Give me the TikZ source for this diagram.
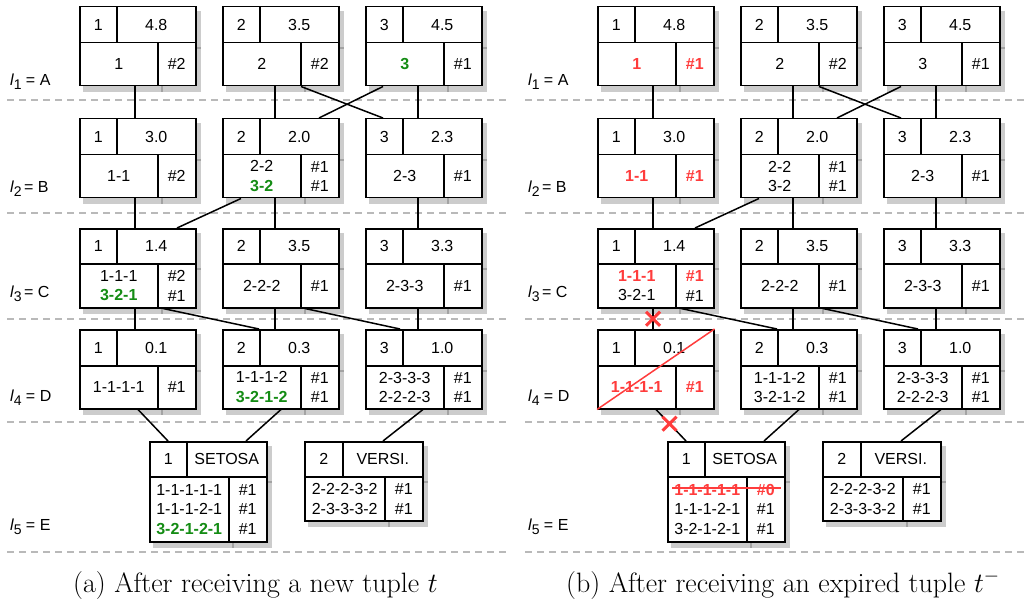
\RequirePackage{fix-cm}
\documentclass[tikz,border=0pt]{standalone}
\usepackage{fontspec}
\newfontfamily\boxfont{Liberation Sans}
\usetikzlibrary{calc,shapes.misc}
\definecolor{gcol}{RGB}{20,140,20}
\definecolor{rcol}{RGB}{255,60,60}
\definecolor{dashc}{RGB}{185,185,185}
\newcommand\G[1]{\textcolor{gcol}{\bfseries #1}}
\newcommand\Rd[1]{\textcolor{rcol}{\bfseries #1}}
\newcommand\IDW{37}\newcommand\NW{78}\newcommand\TW{116}
\newcommand\setdims[3]{\renewcommand\IDW{#1}\renewcommand\NW{#2}\renewcommand\TW{#3}}
\newcommand\cellx[6]{%
  \pgfmathsetmacro\cxa{#2}\pgfmathsetmacro\cya{#3}%
  \pgfmathsetmacro\cw{#4}\pgfmathsetmacro\ch{#5}%
  \fill[shadowc] (\cxa+4.25,\cya+5.25) rectangle ++(\cw+1.5,\ch+1.5);
  \node[cell,minimum width=\cw pt,minimum height=\ch pt] (#1) at (\cxa,\cya) {#6};
}
\newcommand\tbox[9]{%
  \cellx{#1i}{#2}{#3}{\IDW}{#8}{#4}
  \cellx{#1v}{#2+\IDW}{#3}{\TW-\IDW}{#8}{#5}
  \cellx{#1n}{#2}{#3+#8}{\NW}{#9}{#6}
  \cellx{#1c}{#2+\NW}{#3+#8}{\TW-\NW}{#9}{#7}
}
\newcommand\link[4]{\draw[conn] ($(#1n.south west)+(#2,0)$) -- ($(#3i.north west)+(#4,0)$);}
\newcommand\links[1]{%
  \link{#1A1}{56}{#1B1}{56}\link{#1A2}{53}{#1B2}{53}\link{#1A3}{53}{#1B3}{53}
  \link{#1A2}{79}{#1B3}{18}\link{#1A3}{18}{#1B2}{97}
  \link{#1B1}{56}{#1C1}{56}\link{#1B2}{53}{#1C2}{53}\link{#1B3}{53}{#1C3}{53}
  \link{#1B2}{19}{#1C1}{98}
  \link{#1C1}{56}{#1D1}{56}\link{#1C2}{53}{#1D2}{53}\link{#1C3}{53}{#1D3}{53}
  \link{#1C1}{84}{#1D2}{37}\link{#1C2}{83}{#1D3}{35}
  \link{#1D1}{59}{#1E1}{19}\link{#1D2}{59}{#1E1}{97}\link{#1D3}{58}{#1E2}{79}
}
\newcommand\sub[1]{{\itshape l}\raisebox{-4pt}{\fontsize{14}{14}\selectfont #1}}
\tikzset{
  cell/.style={draw,line width=1.5pt,fill=white,inner sep=0pt,anchor=north west,
    font=\boxfont\fontsize{16}{19.5}\selectfont,align=center},
  shadowc/.style={fill=black,opacity=0.2},
  conn/.style={line width=1.5pt},
  sep/.style={draw=dashc,line width=1.5pt,dash pattern=on 7pt off 5pt},
  lab/.style={font=\boxfont\fontsize{16}{19}\selectfont,inner sep=0pt,anchor=west},
  captxt/.style={font=\fontsize{28}{32}\selectfont,inner sep=0pt,anchor=base west},
  redx/.style={cross out,draw=rcol,line width=3pt,minimum size=11pt,inner sep=0pt},
  redl/.style={draw=rcol,line width=1.5pt}
}
\begin{document}
\begin{tikzpicture}[x=1pt,y=-1pt]
\useasboundingbox (0,0) rectangle (1026,607);
% separators
\foreach \yy in {100,213,319,422,552}{
  \draw[sep] (7,\yy) -- (510,\yy);
  \draw[sep] (525,\yy) -- (1026,\yy);
}
% ---------------- left panel
\node[lab] (la1) at (10,82) {\sub{1} = A};
\node[lab] (la2) at (10,189) {\sub{2}\,= B};
\node[lab] (la3) at (10,294) {\sub{3}\,= C};
\node[lab] (la4) at (10,398) {\sub{4} = D};
\node[lab] (la5) at (10,527) {\sub{5} = E};
\setdims{37}{78}{116}
\tbox{LA1}{79}{6}{1}{4.8}{1}{\#2}{36}{43}
\tbox{LA2}{222}{6}{2}{3.5}{2}{\#2}{36}{43}
\tbox{LA3}{365}{6}{3}{4.5}{\G{3}}{\#1}{36}{43}
\tbox{LB1}{79}{118}{1}{3.0}{1-1}{\#2}{36}{43}
\tbox{LB2}{222}{118}{2}{2.0}{2-2\\\G{3-2}}{\#1\\\#1}{36}{43}
\tbox{LB3}{365}{118}{3}{2.3}{2-3}{\#1}{36}{43}
\tbox{LC1}{79}{228}{1}{1.4}{1-1-1\\\G{3-2-1}}{\#2\\\#1}{35}{44}
\tbox{LC2}{222}{228}{2}{3.5}{2-2-2}{\#1}{35}{44}
\tbox{LC3}{365}{228}{3}{3.3}{2-3-3}{\#1}{35}{44}
\tbox{LD1}{79}{329}{1}{0.1}{1-1-1-1}{\#1}{36}{43}
\tbox{LD2}{222}{329}{2}{0.3}{1-1-1-2\\\G{3-2-1-2}}{\#1\\\#1}{36}{43}
\tbox{LD3}{365}{329}{3}{1.0}{2-3-3-3\\2-2-2-3}{\#1\\\#1}{36}{43}
\setdims{37}{79}{117}
\tbox{LE1}{149}{441}{1}{SETOSA}{1-1-1-1-1\\1-1-1-2-1\\\G{3-2-1-2-1}}{\#1\\\#1\\\#1}{35}{65}
\setdims{38}{80}{118}
\tbox{LE2}{304}{441}{2}{VERSI.}{2-2-2-3-2\\2-3-3-3-2}{\#1\\\#1}{35}{44}
\links{L}
% ---------------- right panel
\node[lab] (ra1) at (528,82) {\sub{1} = A};
\node[lab] (ra2) at (528,189) {\sub{2}\,= B};
\node[lab] (ra3) at (528,294) {\sub{3}\,= C};
\node[lab] (ra4) at (528,398) {\sub{4} = D};
\node[lab] (ra5) at (528,527) {\sub{5} = E};
\setdims{37}{78}{116}
\tbox{RA1}{597}{6}{1}{4.8}{\Rd{1}}{\Rd{\#1}}{36}{43}
\tbox{RA2}{740}{6}{2}{3.5}{2}{\#2}{36}{43}
\tbox{RA3}{883}{6}{3}{4.5}{3}{\#1}{36}{43}
\tbox{RB1}{597}{118}{1}{3.0}{\Rd{1-1}}{\Rd{\#1}}{36}{43}
\tbox{RB2}{740}{118}{2}{2.0}{2-2\\3-2}{\#1\\\#1}{36}{43}
\tbox{RB3}{883}{118}{3}{2.3}{2-3}{\#1}{36}{43}
\tbox{RC1}{597}{228}{1}{1.4}{\Rd{1-1-1}\\3-2-1}{\Rd{\#1}\\\#1}{35}{44}
\tbox{RC2}{740}{228}{2}{3.5}{2-2-2}{\#1}{35}{44}
\tbox{RC3}{883}{228}{3}{3.3}{2-3-3}{\#1}{35}{44}
\tbox{RD1}{597}{329}{1}{0.1}{\Rd{1-1-1-1}}{\Rd{\#1}}{36}{43}
\tbox{RD2}{740}{329}{2}{0.3}{1-1-1-2\\3-2-1-2}{\#1\\\#1}{36}{43}
\tbox{RD3}{883}{329}{3}{1.0}{2-3-3-3\\2-2-2-3}{\#1\\\#1}{36}{43}
\setdims{37}{79}{117}
\tbox{RE1}{667}{441}{1}{SETOSA}{\Rd{1-1-1-1-1}\\1-1-1-2-1\\3-2-1-2-1}{\Rd{\#0}\\\#1\\\#1}{35}{65}
\setdims{38}{80}{118}
\tbox{RE2}{822}{441}{2}{VERSI.}{2-2-2-3-2\\2-3-3-3-2}{\#1\\\#1}{35}{44}
\links{R}
% red marks
\draw[redl] (RD1n.south west) -- (RD1v.north east);
\draw[redl] ($(RE1n.north west)+(5,12)$) -- ($(RE1c.north east)+(-5,12)$);
\coordinate (xa) at ($(RC1n.south west)+(56,0)$);
\coordinate (xb) at ($(RD1i.north west)+(56,0)$);
\coordinate (xc) at ($(RD1n.south west)+(59,0)$);
\coordinate (xd) at ($(RE1i.north west)+(19,0)$);
\node[redx] (x1) at ($(xa)!0.5!(xb)$) {};
\node[redx] (x2) at ($(xc)!0.45!(xd)$) {};
% captions
\node[captxt] (capa) at (73,592) {(a) After receiving a new tuple $t$};
\node[captxt] (capb) at (566,592) {(b) After receiving an expired tuple $t^-$};
\end{tikzpicture}
\end{document}
